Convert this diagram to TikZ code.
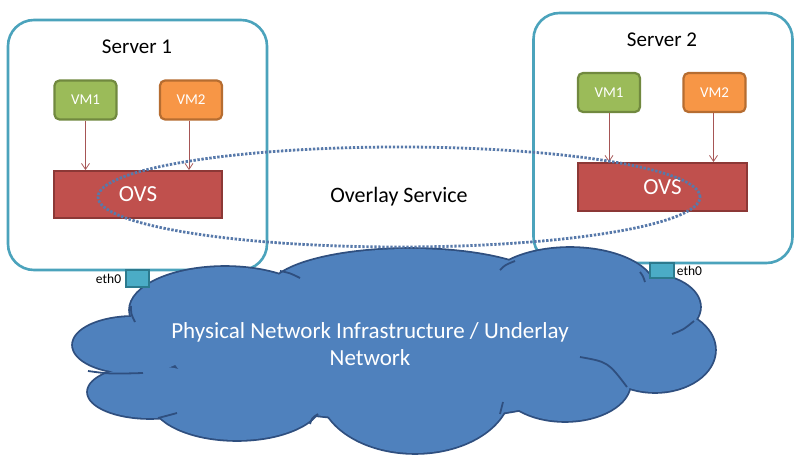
\documentclass[tikz,border=0pt]{standalone}
\usepackage{fontspec}
\setmainfont{Carlito}
\usetikzlibrary{shapes.geometric,arrows.meta}
\definecolor{srvline}{HTML}{4BA3BC}
\definecolor{vmgreen}{HTML}{9BBB59}
\definecolor{vmgreenb}{HTML}{71893F}
\definecolor{vmorange}{HTML}{F79646}
\definecolor{vmorangeb}{HTML}{B66D31}
\definecolor{ovsred}{HTML}{C0504D}
\definecolor{ovsredb}{HTML}{8C3836}
\definecolor{arrowc}{HTML}{A65555}
\definecolor{cloudfill}{HTML}{4F81BD}
\definecolor{cloudline}{HTML}{2F4F7F}
\definecolor{ethfill}{HTML}{4BACC6}
\definecolor{ethline}{HTML}{2C7A8E}
\definecolor{dotc}{HTML}{5779AA}
\begin{document}
\begin{tikzpicture}[x=1pt,y=-1pt,
  server/.style={draw=srvline,line width=2.6pt,rounded corners=26pt,inner sep=0pt},
  vmbox/.style={rounded corners=5pt,line width=2.2pt,minimum width=62pt,minimum height=39pt,inner sep=0pt,text=white,font=\fontsize{15}{17}\selectfont},
  ovsbox/.style={fill=ovsred,draw=ovsredb,line width=1.8pt,minimum width=168pt,minimum height=47pt,inner sep=0pt,text=white,font=\fontsize{23}{25}\selectfont},
  title/.style={font=\fontsize{21}{23}\selectfont,text=black},
  vmarrow/.style={draw=arrowc,line width=0.8pt,-{Straight Barb[length=6pt,width=8pt,line width=0.8pt]}},
  ethbox/.style={fill=ethfill,draw=ethline,line width=1.4pt,inner sep=0pt},
  ethlabel/.style={font=\fontsize{13.5}{14}\selectfont,text=black,inner sep=1pt},
  innerarc/.style={draw=cloudline,line width=1.8pt}
]
\useasboundingbox (0,0) rectangle (795,462);
\fill[white] (0,0) rectangle (795,462);

% servers
\node[server,minimum width=259pt,minimum height=250pt] (srv1) at (137.5,145) {};
\node[server,minimum width=259pt,minimum height=250pt] (srv2) at (663,138) {};
\node[title] (srv1t) at (137,47) {Server 1};
\node[title] (srv2t) at (662,40) {Server 2};

% VMs
\node[vmbox,fill=vmgreen,draw=vmgreenb] (s1vm1) at (85.5,100) {VM1};
\node[vmbox,fill=vmorange,draw=vmorangeb] (s1vm2) at (191,100) {VM2};
\node[ovsbox] (s1ovs) at (138,194.5) {OVS};
\node[vmbox,fill=vmgreen,draw=vmgreenb] (s2vm1) at (609,92.5) {VM1};
\node[vmbox,fill=vmorange,draw=vmorangeb] (s2vm2) at (714.5,92.5) {VM2};
\node[ovsbox,minimum width=169pt,minimum height=48pt] (s2ovs) at (662.5,187) {OVS};

\draw[vmarrow] (s1vm1.south) -- (s1vm1.south |- s1ovs.north);
\draw[vmarrow] ([xshift=-2pt]s1vm2.south) -- ([xshift=-2pt]s1vm2.south |- s1ovs.north);
\draw[vmarrow] (s2vm1.south) -- (s2vm1.south |- s2ovs.north);
\draw[vmarrow] ([xshift=-1pt]s2vm2.south) -- ([xshift=-1pt]s2vm2.south |- s2ovs.north);

% cloud: stroke pass
\begin{scope}[draw=cloudline,line width=3.6pt]
  \draw (133,345) ellipse [x radius=60,y radius=28];
  \draw (150,392) ellipse [x radius=62,y radius=26];
  \draw (237,400) ellipse [x radius=85,y radius=40];
  \draw (415,390) ellipse [x radius=95,y radius=63];
  \draw (565,383) ellipse [x radius=65,y radius=38];
  \draw (655,350) ellipse [x radius=60,y radius=42];
  \draw (645,307) ellipse [x radius=55,y radius=33];
  \draw (570,290) ellipse [x radius=85,y radius=42];
  \draw (410,289) ellipse [x radius=140,y radius=40];
  \draw (225,310) ellipse [x radius=95,y radius=43];
  \draw (400,350) ellipse [x radius=230,y radius=70];
\end{scope}
% cloud: fill pass
\begin{scope}[fill=cloudfill]
  \fill (133,345) ellipse [x radius=60,y radius=28];
  \fill (150,392) ellipse [x radius=62,y radius=26];
  \fill (237,400) ellipse [x radius=85,y radius=40];
  \fill (415,390) ellipse [x radius=95,y radius=63];
  \fill (565,383) ellipse [x radius=65,y radius=38];
  \fill (655,350) ellipse [x radius=60,y radius=42];
  \fill (645,307) ellipse [x radius=55,y radius=33];
  \fill (570,290) ellipse [x radius=85,y radius=42];
  \fill (410,289) ellipse [x radius=140,y radius=40];
  \fill (225,310) ellipse [x radius=95,y radius=43];
  \fill (400,350) ellipse [x radius=230,y radius=70];
\end{scope}
% cloud: inner arcs
\draw[innerarc] (131,306) .. controls (131,314) .. (135,322);
\draw[innerarc] (88,371) .. controls (110,374) .. (143,373);
\draw[innerarc] (158,418) .. controls (166,416) .. (177,413);
\draw[innerarc] (310,424) .. controls (312,418) .. (318,414);
\draw[innerarc] (280,271) .. controls (290,273) .. (300,278);
\draw[innerarc] (500,270) .. controls (505,265) .. (515,261);
\draw[innerarc] (640,272) .. controls (643,276) .. (645,282);
\draw[innerarc] (672,334) .. controls (683,330) .. (694,321);
\draw[innerarc] (580,357) .. controls (608,362) .. (627,387);
\draw[innerarc] (500,414) .. controls (501,408) .. (503,402);
\node[text=white,font=\fontsize{23}{27}\selectfont,align=center] (cloudt) at (370,344)
  {Physical Network Infrastructure / Underlay\\Network};

% eth0
\node[ethbox,minimum width=23pt,minimum height=17pt] (eth1) at (137.5,278.5) {};
\node[ethbox,minimum width=24pt,minimum height=15pt] (eth2) at (662,270.5) {};
\node[ethlabel,anchor=east] (eth1l) at ([xshift=-3pt]eth1.west) {eth0};
\node[ethlabel,anchor=west] (eth2l) at ([xshift=1pt]eth2.east) {eth0};

% overlay
\node[ellipse,draw=dotc,line width=2.8pt,dash pattern=on 2.4pt off 1.6pt,
  minimum width=602pt,minimum height=100pt,inner sep=0pt,
  font=\fontsize{22}{24}\selectfont] (overlay) at (399,197) {Overlay Service};
\end{tikzpicture}
\end{document}
